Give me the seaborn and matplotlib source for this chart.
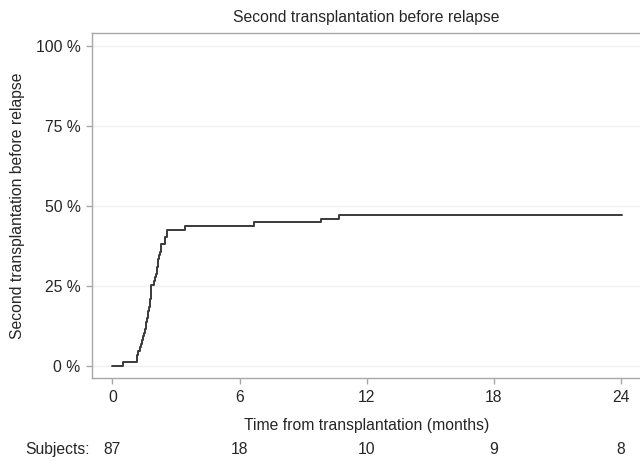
import matplotlib
matplotlib.use("Agg")
import matplotlib.pyplot as plt
import matplotlib.transforms as mtransforms
import seaborn as sns
import pandas as pd

# ---- data ----
months = [0.0, 0.49, 1.15, 1.22, 1.28, 1.33, 1.38, 1.42, 1.47, 1.52, 1.56, 1.60,
          1.63, 1.67, 1.70, 1.73, 1.76, 1.78, 1.80, 1.82, 1.84, 1.98, 2.02, 2.05,
          2.08, 2.11, 2.14, 2.17, 2.20, 2.24, 2.27, 2.30, 2.46, 2.57, 3.43, 6.66,
          9.86, 10.69, 24.03]
cum_pct = [0.0, 1.15, 3.4, 4.6, 5.7, 6.9, 8.0, 9.2, 10.3, 11.5, 12.6, 13.8,
           14.9, 16.1, 17.2, 18.4, 19.5, 20.7, 21.8, 23.0, 25.3, 26.4, 27.6, 28.7,
           29.9, 31.0, 32.2, 33.3, 34.5, 35.6, 36.8, 37.9, 40.2, 42.5, 43.7, 44.8,
           46.0, 47.1, 47.1]
x_ticks = [0, 6, 12, 18, 24]
y_ticks = [0, 25, 50, 75, 100]
y_tick_labels = ["0 %", "25 %", "50 %", "75 %", "100 %"]
risk_times = [0, 6, 12, 18, 24]
subjects = [87, 18, 10, 9, 8]

title = "Second transplantation before relapse"
xlabel = "Time from transplantation (months)"
ylabel = "Second transplantation before relapse"

df = pd.DataFrame({"months": months, "pct": cum_pct})

sns.set_theme(style="white")
plt.rcParams["font.family"] = ["Liberation Sans", "DejaVu Sans"]

text_color = "#262626"
spine_color = "#a8a8a8"

fig = plt.figure(figsize=(6.4, 4.61), dpi=100)
ax = fig.add_axes([0.1442, 0.179, 1.0 - 0.1442, 0.9278 - 0.179])

sns.lineplot(data=df, x="months", y="pct", ax=ax, drawstyle="steps-post",
             color="#3a3a3a", linewidth=1.4, estimator=None, sort=False)

ax.set_xlim(-0.953, 24.9)
ax.set_ylim(-4.0, 103.9)
ax.set_xticks(x_ticks)
ax.set_xticklabels([str(t) for t in x_ticks])
ax.set_yticks(y_ticks)
ax.set_yticklabels(y_tick_labels)

for y in y_ticks:
    ax.axhline(y, color="#f0f0f0", linewidth=1.0, zorder=0)

for side in ["left", "bottom", "top"]:
    ax.spines[side].set_visible(True)
    ax.spines[side].set_color(spine_color)
    ax.spines[side].set_linewidth(1.0)
ax.spines["right"].set_visible(False)

ax.tick_params(axis="both", which="major", direction="out", length=4.5,
               width=1.0, color=spine_color, labelsize=11.3,
               labelcolor=text_color, pad=4, bottom=True, left=True)

ax.set_title(title, fontsize=11.3, color=text_color, pad=8)
ax.set_xlabel(xlabel, fontsize=11.3, color=text_color, labelpad=9)
ax.set_ylabel(ylabel, fontsize=11.3, color=text_color, labelpad=8)

trans = mtransforms.blended_transform_factory(ax.transData, fig.transFigure)
y_risk = 1 - 449 / 461
for t, n in zip(risk_times, subjects):
    ax.text(t, y_risk, str(n), transform=trans, ha="center", va="center",
            fontsize=11.3, color=text_color)
fig.text(25 / 640, y_risk, "Subjects:", ha="left", va="center",
         fontsize=11.3, color=text_color)

fig.savefig("out.png", dpi=100)
